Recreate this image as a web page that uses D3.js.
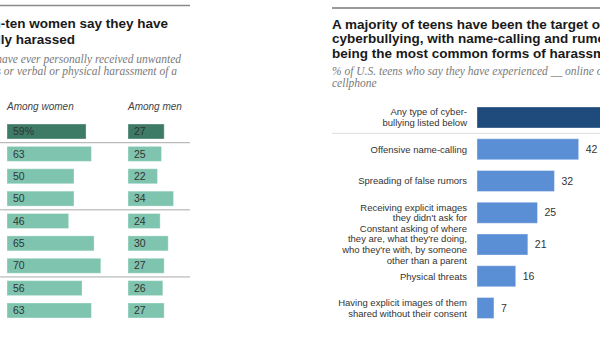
<!DOCTYPE html>
<html>
<head>
<meta charset="utf-8">
<script src="https://cdn.jsdelivr.net/npm/d3@7"></script>
<style>
  body { margin: 0; background: #fff; }
  svg { display: block; }
  .title { font-family: "Liberation Sans", Arial, sans-serif; font-weight: bold; font-size: 13.5px; fill: #1a1a1a; }
  .sub { font-family: "Liberation Serif", Georgia, serif; font-style: italic; font-size: 11.5px; fill: #7a7a7a; }
  .lbl { font-family: "Liberation Sans", Arial, sans-serif; font-size: 9.5px; fill: #333; }
  .val { font-family: "Liberation Sans", Arial, sans-serif; font-size: 10.5px; fill: #333; }
  .head { font-family: "Liberation Sans", Arial, sans-serif; font-style: italic; font-size: 10px; fill: #444; }
</style>
</head>
<body>
<svg id="chart"></svg>
<script>
const width = 600, height = 337;

// left panel: harassment, women vs men
const womenValues = [59, 63, 50, 50, 46, 65, 70, 56, 63];
const menValues   = [27, 25, 22, 34, 24, 30, 27, 26, 27];
const groupStarts = [1, 4, 7];
const leftTitle = ["Roughly six-in-ten women say they have", "been sexually harassed"];
const leftSub = ["% who say they have ever personally received unwanted",
                 "sexual advances or verbal or physical harassment of a"];

// right panel: teen cyberbullying
const teenCategories = [
  ["Any type of cyber-", "bullying listed below"],
  ["Offensive name-calling"],
  ["Spreading of false rumors"],
  ["Receiving explicit images", "they didn't ask for"],
  ["Constant asking of where", "they are, what they're doing,", "who they're with, by someone", "other than a parent"],
  ["Physical threats"],
  ["Having explicit images of them", "shared without their consent"]
];
const teenValues = [59, 42, 32, 25, 21, 16, 7];
const rightTitle = ["A majority of teens have been the target of",
                    "cyberbullying, with name-calling and rumors",
                    "being the most common forms of harassment"];
const rightSub = ["% of U.S. teens who say they have experienced __ online or on their",
                  "cellphone"];

const svg = d3.select("#chart").attr("width", width).attr("height", height);

// ---- left panel ----
const left = svg.append("g");
left.append("line").attr("x1", 0).attr("x2", 190).attr("y1", 5.5).attr("y2", 5.5)
  .attr("stroke", "#8a8a8a").attr("stroke-width", 1.5);

left.selectAll("text.title").data(leftTitle).join("text")
  .attr("class", "title").attr("text-anchor", "end")
  .attr("x", (d, i) => i ? 75 : 168).attr("y", (d, i) => 28 + i * 16)
  .text(d => d);
left.selectAll("text.sub").data(leftSub).join("text")
  .attr("class", "sub").attr("text-anchor", "end")
  .attr("x", (d, i) => i ? 177 : 181).attr("y", (d, i) => 63 + i * 12)
  .text(d => d);

const rows = d3.scalePoint().domain(d3.range(womenValues.length)).range([131.5, 310.5]);
const xw = d3.scaleLinear().domain([0, 100]).range([7, 141]);
const xm = d3.scaleLinear().domain([0, 100]).range([128, 262]);
const barH = 15;

left.append("text").attr("class", "head").attr("x", xw(0)).attr("y", 110).text("Among women");
left.append("text").attr("class", "head").attr("x", xm(0)).attr("y", 110).text("Among men");

left.selectAll("line.sep").data(groupStarts).join("line")
  .attr("class", "sep")
  .attr("x1", 0).attr("x2", 190)
  .attr("y1", d => (rows(d) + rows(d - 1)) / 2).attr("y2", d => (rows(d) + rows(d - 1)) / 2)
  .attr("stroke", "#aaa").attr("stroke-width", 1);

[[womenValues, xw], [menValues, xm]].forEach(([vals, x], k) => {
  const g = left.append("g");
  g.selectAll("rect").data(vals).join("rect")
    .attr("x", x(0)).attr("y", (d, i) => rows(i) - barH / 2)
    .attr("width", d => x(d) - x(0)).attr("height", barH)
    .attr("fill", (d, i) => i === 0 ? "#3d7b67" : "#7ec4ae")
    .attr("stroke", "#fff").attr("stroke-opacity", 0.35);
  g.selectAll("text").data(vals).join("text")
    .attr("class", "val")
    .attr("x", x(0) + 6).attr("y", (d, i) => rows(i)).attr("dy", "0.35em")
    .attr("fill", (d, i) => i === 0 ? "#dfe9e5" : "#2b2b2b")
    .text((d, i) => i === 0 && k === 0 ? d + "%" : d);
});

// ---- right panel ----
const right = svg.append("g");
right.append("line").attr("x1", 332).attr("x2", width).attr("y1", 8).attr("y2", 8)
  .attr("stroke", "#777").attr("stroke-width", 1.5);

right.selectAll("text.title").data(rightTitle).join("text")
  .attr("class", "title").attr("x", 332).attr("y", (d, i) => 29 + i * 14.3)
  .text(d => d);
right.selectAll("text.sub").data(rightSub).join("text")
  .attr("class", "sub").attr("x", 332).attr("y", (d, i) => 75 + i * 12)
  .text(d => d);

const y = d3.scalePoint().domain(d3.range(teenValues.length)).range([117.5, 308]);
const x = d3.scaleLinear().domain([0, 100]).range([477, 719]);
const bh = 21;

right.append("line").attr("x1", 332).attr("x2", width)
  .attr("y1", (y(0) + y(1)) / 2).attr("y2", (y(0) + y(1)) / 2)
  .attr("stroke", "#ddd").attr("stroke-width", 1);

right.selectAll("rect").data(teenValues).join("rect")
  .attr("x", x(0)).attr("y", (d, i) => y(i) - bh / 2)
  .attr("width", d => x(d) - x(0)).attr("height", bh)
  .attr("fill", (d, i) => i === 0 ? "#1f4a7c" : "#5a8fd6")
  .attr("stroke", "#fff").attr("stroke-opacity", 0.35);

right.selectAll("text.val").data(teenValues).join("text")
  .attr("class", "val").attr("x", d => x(d) + 7).attr("y", (d, i) => y(i)).attr("dy", "0.35em")
  .text(d => d);

const lineH = 10.7;
right.selectAll("text.lbl").data(teenCategories).join("text")
  .attr("class", "lbl").attr("text-anchor", "end")
  .attr("y", (d, i) => y(i) - (d.length - 1) * lineH / 2)
  .selectAll("tspan").data(d => d).join("tspan")
  .attr("x", 467).attr("dy", (d, i) => i ? lineH : "0.35em")
  .text(d => d);
</script>
</body>
</html>
